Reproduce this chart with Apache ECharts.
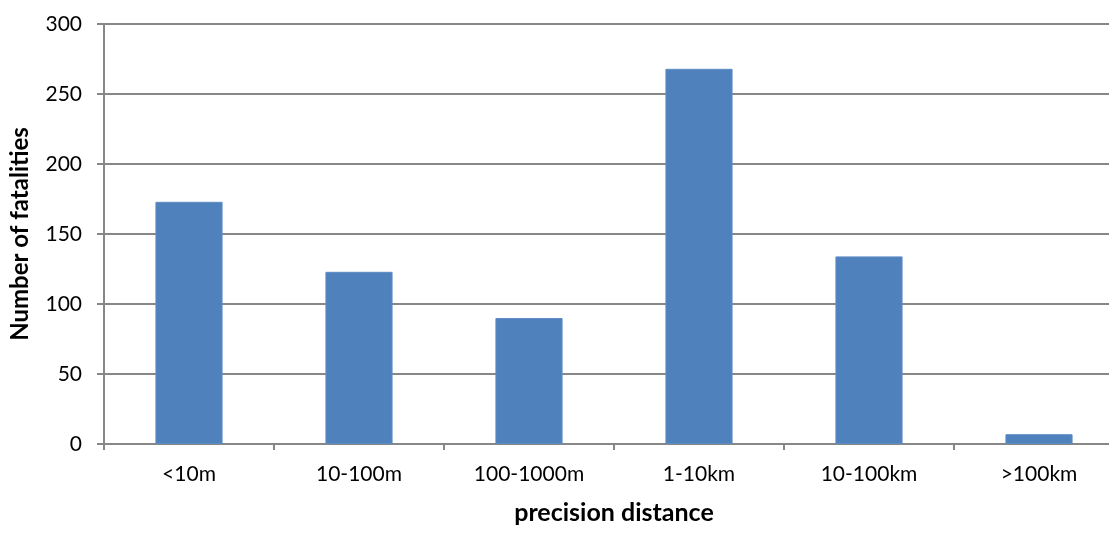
<!DOCTYPE html>
<html>
<head>
<meta charset="utf-8">
<script src="https://cdn.jsdelivr.net/npm/echarts@6/dist/echarts.min.js"></script>
<style>
  html, body { margin: 0; padding: 0; background: #ffffff; }
  #chart { width: 1109px; height: 533px; }
</style>
</head>
<body>
<div id="chart"></div>
<script>
// Fatalities grouped by location precision distance
const categories = ['<10m', '10-100m', '100-1000m', '1-10km', '10-100km', '>100km'];
const fatalities = [173, 123, 90, 268, 134, 7];
const yTicks = { min: 0, max: 300, step: 50 };

const FONT = 'Lato, "Open Sans", sans-serif';
const GRID_GREY = '#878787';

const chart = echarts.init(document.getElementById('chart'), null, { renderer: 'canvas' });

chart.setOption({
  animation: false,
  backgroundColor: '#ffffff',
  grid: { left: 104, top: 24, width: 1020, height: 420, outerBoundsMode: 'none', containLabel: false },
  xAxis: {
    type: 'category',
    data: categories,
    name: 'precision distance',
    nameLocation: 'middle',
    nameGap: 56,
    nameTextStyle: { fontFamily: FONT, fontSize: 25, fontWeight: 'bold', color: '#000' },
    axisLine: { show: true, lineStyle: { color: GRID_GREY, width: 2 } },
    axisTick: { show: true, alignWithLabel: false, length: 6, lineStyle: { color: GRID_GREY, width: 2 } },
    axisLabel: { fontFamily: FONT, fontSize: 21, color: '#000', margin: 20 }
  },
  yAxis: {
    type: 'value',
    min: yTicks.min,
    max: yTicks.max,
    interval: yTicks.step,
    name: 'Number of fatalities',
    nameLocation: 'middle',
    nameGap: 72,
    nameRotate: 90,
    nameTextStyle: { fontFamily: FONT, fontSize: 24, fontWeight: 'bold', color: '#000' },
    axisLine: { show: true, lineStyle: { color: GRID_GREY, width: 2 } },
    axisTick: { show: true, inside: false, length: 7, lineStyle: { color: GRID_GREY, width: 2 } },
    axisLabel: { fontFamily: FONT, fontSize: 21, color: '#000', margin: 22 },
    splitLine: { show: true, lineStyle: { color: GRID_GREY, width: 2 } }
  },
  series: [{
    type: 'bar',
    data: fatalities,
    barWidth: '39.5%',
    itemStyle: { color: '#4F81BD', borderColor: '#5E8CC4', borderWidth: 1 }
  }]
});
</script>
</body>
</html>
